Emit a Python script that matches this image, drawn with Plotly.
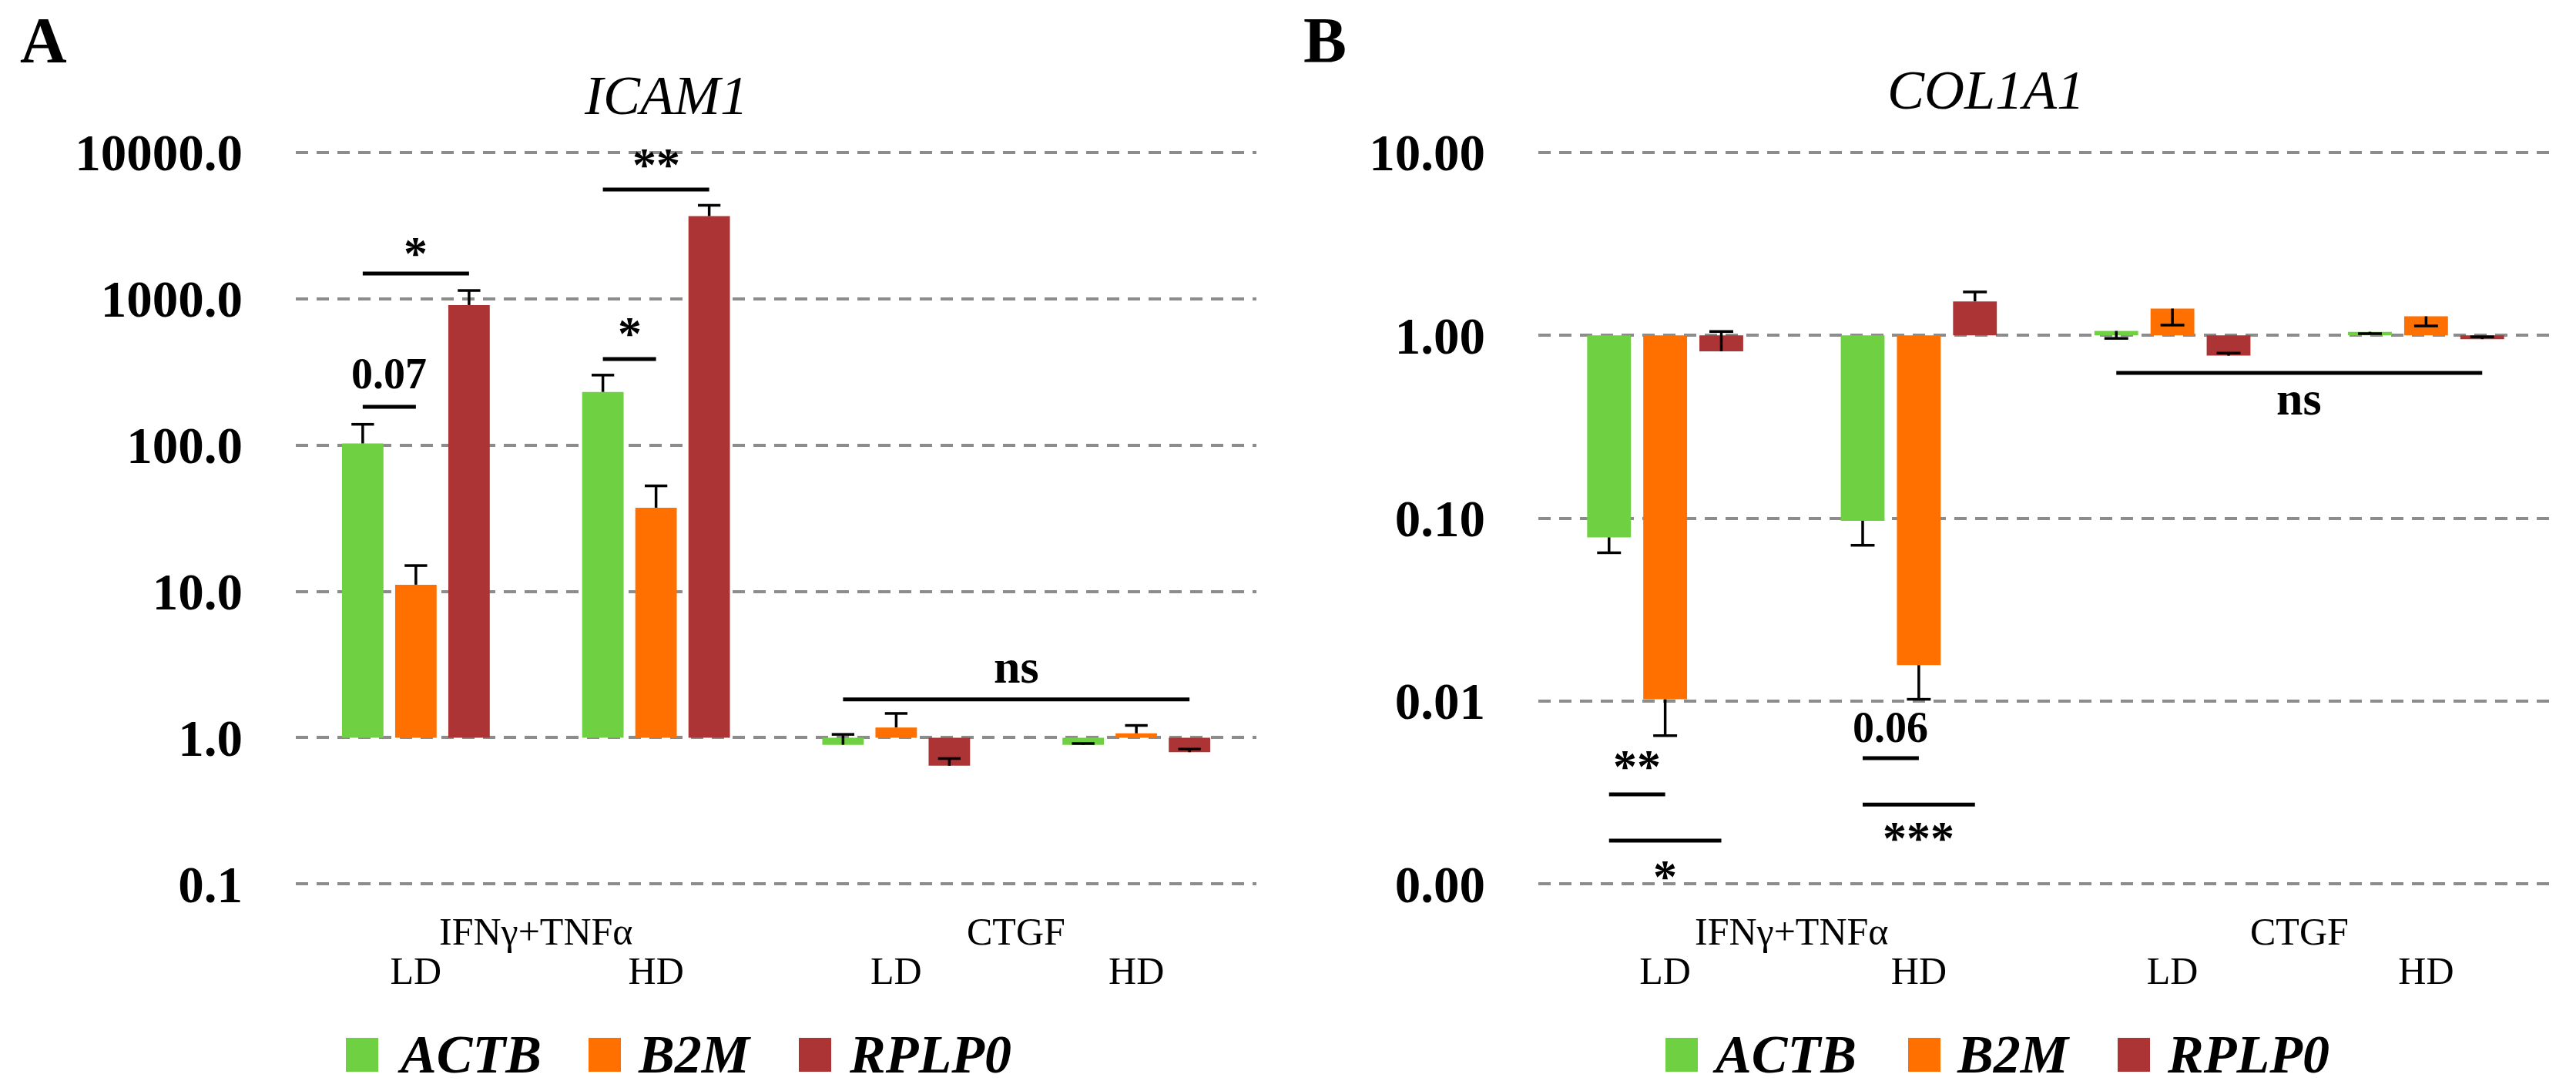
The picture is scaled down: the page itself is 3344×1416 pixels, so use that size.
import math
import plotly.graph_objects as go

# ---------------- data ----------------
treatments = ["IFNγ+TNFα", "IFNγ+TNFα", "CTGF", "CTGF"]
doses = ["LD", "HD", "LD", "HD"]
genes = ["ACTB", "B2M", "RPLP0"]
gene_colors = ["#6FD142", "#FF7000", "#AD3434"]

# ICAM1 fold change (relative to 1.0) for each reference gene
icam1_actb = [102.6, 230.6, 0.894, 0.894]
icam1_b2m = [11.1, 37.3, 1.174, 1.071]
icam1_rplp0 = [905.0, 3670.0, 0.643, 0.796]
icam1_actb_err_up = [36.0, 70.0, 0.159, 0.018]
icam1_b2m_err_up = [3.9, 15.3, 0.29, 0.141]
icam1_rplp0_err_up = [233.0, 680.0, 0.077, 0.039]
icam1_actb_err_down = [0, 0, 0, 0]
icam1_b2m_err_down = [0, 0, 0, 0]
icam1_rplp0_err_down = [0, 0, 0, 0]

# COL1A1 fold change
col1a1_actb = [0.0785, 0.0968, 1.056, 1.045]
col1a1_b2m = [0.01023, 0.01573, 1.40, 1.27]
col1a1_rplp0 = [0.817, 1.533, 0.774, 0.953]
col1a1_actb_err_up = [0, 0, 0, 0]
col1a1_b2m_err_up = [0, 0, 0, 0]
col1a1_rplp0_err_up = [0.232, 0.193, 0.025, 0.028]
col1a1_actb_err_down = [0.0138, 0.0257, 0.094, 0.024]
col1a1_b2m_err_down = [0.00376, 0.0055, 0.263, 0.145]
col1a1_rplp0_err_down = [0, 0, 0, 0]

# significance brackets: (category, gene index) start/end, level, label
icam1_sig_labels = ["0.07", "*", "*", "**", "ns"]
icam1_sig_start = [(0, 0), (0, 0), (1, 0), (1, 0), (2, 0)]
icam1_sig_end = [(0, 1), (0, 2), (1, 1), (1, 2), (3, 2)]
icam1_sig_level = [182.6, 1486.0, 387.0, 5570.0, 1.826]

col1a1_sig_labels = ["**", "*", "0.06", "***", "ns"]
col1a1_sig_start = [(0, 0), (0, 0), (1, 0), (1, 0), (2, 0)]
col1a1_sig_end = [(0, 1), (0, 2), (1, 1), (1, 2), (3, 2)]
col1a1_sig_level = [0.00309, 0.001726, 0.00488, 0.00272, 0.622]

# ---------------- layout constants ----------------
W, H = 3344, 1416
FONT = "Liberation Serif"
BASE = 1.0
BARGAP, BARGROUPGAP = 0.336, 0.22
SLOT = (1 - BARGAP) / len(genes)
CAP_HALF = 0.047
EXT = 0.012  # tiny range extension (decades) so end gridlines are drawn
GRID = dict(showgrid=True, gridcolor="#8C8C8C", gridwidth=4, griddash="16px,11px")
PLOT_TOP, PLOT_BOTTOM = 197.8, 1147.3


def px(x):
    return x / W


def py(y):
    return 1 - y / H


panels = [
    dict(xa="x", ya="y", xdom=[px(384), px(1631)], yrange=[-1, 4], fmt=".1f",
         title="ICAM1", title_pos=(864, 124), letter="A", letter_pos=(56, 53),
         values=[icam1_actb, icam1_b2m, icam1_rplp0],
         up=[icam1_actb_err_up, icam1_b2m_err_up, icam1_rplp0_err_up],
         down=[icam1_actb_err_down, icam1_b2m_err_down, icam1_rplp0_err_down],
         sig=(icam1_sig_labels, icam1_sig_start, icam1_sig_end, icam1_sig_level),
         sig_shift=[43, 27, 34, 33, 43],
         legend_sq=[449, 764, 1037], legend_tx=[514, 826, 1100]),
    dict(xa="x2", ya="y2", xdom=[px(1997), px(3314)], yrange=[-3, 1], fmt=".2f",
         title="COL1A1", title_pos=(2578, 117), letter="B", letter_pos=(1720, 53),
         values=[col1a1_actb, col1a1_b2m, col1a1_rplp0],
         up=[col1a1_actb_err_up, col1a1_b2m_err_up, col1a1_rplp0_err_up],
         down=[col1a1_actb_err_down, col1a1_b2m_err_down, col1a1_rplp0_err_down],
         sig=(col1a1_sig_labels, col1a1_sig_start, col1a1_sig_end, col1a1_sig_level),
         sig_shift=[37, -46, 40, -43, -33],
         legend_sq=[2162, 2477, 2749], legend_tx=[2221, 2538, 2811]),
]

fig = go.Figure()
annotations = []
shapes = []
idx = list(range(len(doses)))


def bar_center(cat, k):
    return cat + (k - (len(genes) - 1) / 2) * SLOT


for p in panels:
    # bars
    for k, g in enumerate(genes):
        vals = p["values"][k]
        fig.add_trace(go.Bar(
            x=idx, y=[v - BASE for v in vals], base=[BASE] * len(vals),
            name=g, marker=dict(color=gene_colors[k], line=dict(width=0)),
            xaxis=p["xa"], yaxis=p["ya"], showlegend=False, hoverinfo="skip"))
    # error bars (one-sided)
    for k, g in enumerate(genes):
        xs, ys = [], []
        for i, v in enumerate(p["values"][k]):
            xc = bar_center(i, k)
            for e, sgn in ((p["up"][k][i], 1), (p["down"][k][i], -1)):
                if e > 0:
                    end = v + sgn * e
                    xs += [xc, xc, None, xc - CAP_HALF, xc + CAP_HALF, None]
                    ys += [v, end, None, end, end, None]
        fig.add_trace(go.Scatter(x=xs, y=ys, mode="lines",
                                 line=dict(color="black", width=3.5),
                                 xaxis=p["xa"], yaxis=p["ya"],
                                 showlegend=False, hoverinfo="skip"))
    # significance brackets
    labels, starts, ends, levels = p["sig"]
    for j, lab in enumerate(labels):
        x0 = bar_center(*starts[j])
        x1 = bar_center(*ends[j])
        fig.add_trace(go.Scatter(x=[x0, x1], y=[levels[j], levels[j]], mode="lines",
                                 line=dict(color="black", width=5),
                                 xaxis=p["xa"], yaxis=p["ya"],
                                 showlegend=False, hoverinfo="skip"))
        size = 56 if lab[0].isdigit() else 62
        annotations.append(dict(
            x=(x0 + x1) / 2, y=math.log10(levels[j]), xref=p["xa"], yref=p["ya"],
            text="<b>%s</b>" % lab, showarrow=False, yanchor="middle", xanchor="center",
            yshift=p["sig_shift"][j], font=dict(family=FONT, size=size, color="black")))
    # group (treatment) labels
    seen = []
    for t in treatments:
        if t not in seen:
            seen.append(t)
    for t in seen:
        pos = [i for i, tt in enumerate(treatments) if tt == t]
        annotations.append(dict(
            x=sum(pos) / len(pos), y=py(1209), xref=p["xa"], yref="paper",
            text=t, showarrow=False, yanchor="middle", xanchor="center",
            font=dict(family=FONT, size=50, color="black")))
    # title & panel letter
    annotations.append(dict(
        x=px(p["title_pos"][0]), y=py(p["title_pos"][1]), xref="paper", yref="paper",
        text="<i>%s</i>" % p["title"], showarrow=False, xanchor="center", yanchor="middle",
        font=dict(family=FONT, size=72, color="black")))
    annotations.append(dict(
        x=px(p["letter_pos"][0]), y=py(p["letter_pos"][1]), xref="paper", yref="paper",
        text="<b>%s</b>" % p["letter"], showarrow=False, xanchor="center", yanchor="middle",
        font=dict(family=FONT, size=84, color="black")))
    # legend
    for k, g in enumerate(genes):
        x0 = p["legend_sq"][k]
        shapes.append(dict(type="rect", xref="paper", yref="paper",
                           x0=px(x0), x1=px(x0 + 42), y0=py(1391), y1=py(1347),
                           fillcolor=gene_colors[k], line=dict(width=0)))
        annotations.append(dict(
            x=px(p["legend_tx"][k]), y=py(1368), xref="paper", yref="paper",
            text="<b><i>%s</i></b>" % g, showarrow=False, xanchor="left", yanchor="middle",
            font=dict(family=FONT, size=70, color="black")))

layout_axes = {}
for n, p in enumerate(panels):
    sx = "" if n == 0 else str(n + 1)
    lo, hi = p["yrange"]
    dec_px = (PLOT_BOTTOM - PLOT_TOP) / (hi - lo)
    layout_axes["xaxis" + sx] = dict(
        domain=p["xdom"], anchor=p["ya"], range=[-0.5, len(doses) - 0.5],
        tickmode="array", tickvals=idx, ticktext=doses, showgrid=False,
        showline=False, zeroline=False, ticks="", ticklabelstandoff=76,
        automargin=False,
        tickfont=dict(family=FONT, size=50, color="black"), fixedrange=True)
    layout_axes["yaxis" + sx] = dict(
        domain=[py(PLOT_BOTTOM + EXT * dec_px), py(PLOT_TOP - EXT * dec_px)],
        anchor=p["xa"], type="log", range=[lo - EXT, hi + EXT], dtick=1,
        tickformat=p["fmt"], showline=False, zeroline=False, ticks="",
        ticklabelstandoff=68, automargin=False,
        tickfont=dict(family=FONT, size=67, color="black", weight="bold"),
        fixedrange=True, **GRID)

fig.update_layout(
    width=W, height=H, margin=dict(l=0, r=0, t=0, b=0, autoexpand=False),
    paper_bgcolor="white", plot_bgcolor="white",
    barmode="group", bargap=BARGAP, bargroupgap=BARGROUPGAP,
    showlegend=False, annotations=annotations, shapes=shapes,
    font=dict(family=FONT, color="black"), **layout_axes)

fig.write_html("out.html", config={"displayModeBar": False},
               post_script="document.body.style.margin='0';document.body.style.overflow='hidden';")
